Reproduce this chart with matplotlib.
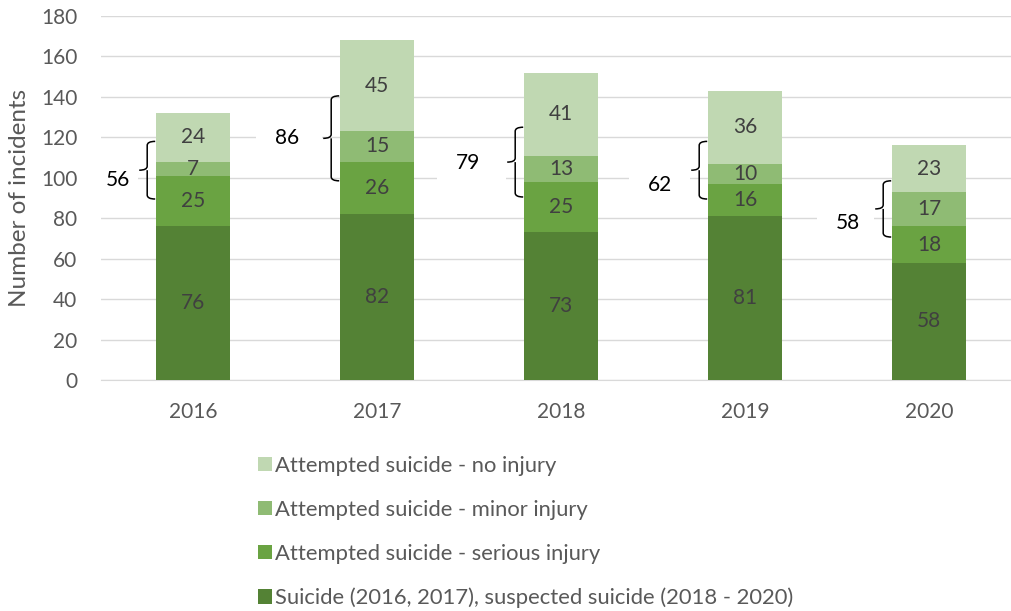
import matplotlib
matplotlib.use("Agg")
import matplotlib.pyplot as plt
from matplotlib.path import Path
from matplotlib.patches import PathPatch, Rectangle, Patch
import numpy as np

plt.rcParams['font.family'] = ['Lato', 'DejaVu Sans']

years = ['2016', '2017', '2018', '2019', '2020']
suicide = [76, 82, 73, 81, 58]
serious = [25, 26, 25, 16, 18]
minor = [7, 15, 13, 10, 17]
no_injury = [24, 45, 41, 36, 23]
attempt_totals = [56, 86, 79, 62, 58]
series_names = ['Suicide (2016, 2017), suspected suicide (2018 - 2020)',
                'Attempted suicide - serious injury',
                'Attempted suicide - minor injury',
                'Attempted suicide - no injury']
colors = ['#548235', '#6AA342', '#8FBB74', '#C0D8B2']

# annotation layout (bracket extents / label anchor, in axis units)
brace_top = [118, 140.5, 125, 118, 98.5]
brace_bot = [89.5, 98.5, 90.5, 89.5, 70.7]
label_dx = [-0.41, -0.49, -0.505, -0.46, -0.44]
label_y = [99, 119.7, 107.3, 96.4, 77.6]

W, H = 1012, 611
fig = plt.figure(figsize=(W / 100, H / 100), dpi=100)
ax = fig.add_axes([101 / W, (611 - 380) / H, 920 / W, 364 / H])

x = np.arange(len(years))
bw = 0.40
bottom = np.zeros(len(years))
data = [suicide, serious, minor, no_injury]
for vals, c, name in zip(data, colors, series_names):
    vals = np.array(vals)
    ax.bar(x, vals, bw, bottom=bottom, color=c, label=name, zorder=3)
    for xi, b, v in zip(x, bottom, vals):
        ax.text(xi, b + v / 2, str(v), ha='center', va='center',
                fontsize=15, color='#404040', zorder=4)
    bottom = bottom + vals

ax.set_xlim(-0.5, 4.5)
ax.set_ylim(0, 180)
ax.set_yticks(np.arange(0, 181, 20))
ax.set_xticks(x)
ax.set_xticklabels(years)
ax.yaxis.grid(True, color='#D9D9D9', linewidth=1.0, zorder=0)
ax.set_axisbelow(True)
for s in ['top', 'right', 'left']:
    ax.spines[s].set_visible(False)
ax.spines['bottom'].set_color('#D9D9D9')
ax.tick_params(axis='both', length=0, labelsize=15, labelcolor='#595959')
ax.tick_params(axis='x', pad=16)
ax.tick_params(axis='y', pad=17)
ax.set_ylabel('Number of incidents', fontsize=17.5, color='#595959')
ax.yaxis.set_label_coords(-71 / 920, 0.5)

# braces + labels
ypx = 180 / 364.0  # data units per pixel
xpx = 1 / 184.0
for i in range(len(years)):
    top, bot = brace_top[i], brace_bot[i]
    mid = (top + bot) / 2
    xe = i - bw / 2 - 1 * xpx
    xv = i - bw / 2 - 9 * xpx
    xt = i - bw / 2 - 17 * xpx
    r = 4 * ypx
    verts = [(xe, top), (xv, top), (xv, top - r),
             (xv, mid + r), (xv, mid), (xt, mid),
             (xv, mid), (xv, mid - r),
             (xv, bot + r), (xv, bot), (xe, bot)]
    codes = [Path.MOVETO, Path.CURVE3, Path.CURVE3,
             Path.LINETO, Path.CURVE3, Path.CURVE3,
             Path.MOVETO, Path.CURVE3,
             Path.LINETO, Path.CURVE3, Path.CURVE3]
    ax.add_patch(PathPatch(Path(verts, codes), fill=False, lw=1.1,
                           edgecolor='black', zorder=5, clip_on=False))
    lx = i + label_dx[i]
    ax.add_patch(Rectangle((lx - 31 * xpx, label_y[i] - 18 * ypx),
                           (xt - 1 * xpx) - (lx - 31 * xpx), 36 * ypx,
                           facecolor='white', edgecolor='none', zorder=2))
    ax.text(lx, label_y[i], str(attempt_totals[i]), ha='center', va='center',
            fontsize=15, color='black', zorder=5)

handles = [Patch(facecolor=c, edgecolor='none') for c in colors]
leg = fig.legend(handles[::-1], series_names[::-1], loc='upper left',
                 bbox_to_anchor=(247 / W, 1 - 445 / H), frameon=False,
                 fontsize=15.8, handlelength=0.62, handleheight=0.62,
                 handletextpad=0.15, labelspacing=1.09, borderpad=0)
for t in leg.get_texts():
    t.set_color('#595959')

fig.savefig('out.png', dpi=100)
